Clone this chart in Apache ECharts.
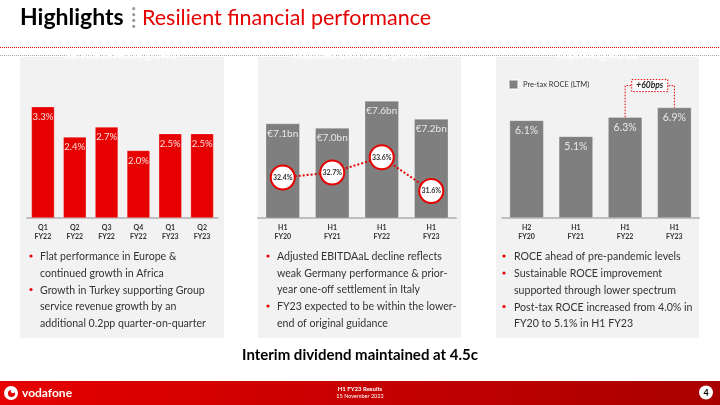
<!DOCTYPE html>
<html><head><meta charset="utf-8">
<script src="https://cdn.jsdelivr.net/npm/echarts@6/dist/echarts.min.js"></script>
<style>html,body{margin:0;padding:0;background:#fff}#c{width:720px;height:405px}</style>
</head><body><div id="c"></div>
<script>
const srvCats = ['Q1\nFY22','Q2\nFY22','Q3\nFY22','Q4\nFY22','Q1\nFY23','Q2\nFY23'];
const srvGrowth = [3.3, 2.4, 2.7, 2.0, 2.5, 2.5];
const ebitdaCats = ['H1\nFY20','H1\nFY21','H1\nFY22','H1\nFY23'];
const ebitdaBn = [7.1, 7.0, 7.6, 7.2];
const ebitdaMargin = [32.4, 32.7, 33.6, 31.6];
const roceCats = ['H2\nFY20','H1\nFY21','H1\nFY22','H1\nFY23'];
const roceVals = [6.1, 5.1, 6.3, 6.9];
const roceChange = '+60bps';
const panelTitles = ['Service revenue growth', 'Adjusted EBITDAaL growth', 'Improving ROCE'];
const bullets1 = [['Flat performance in Europe &','continued growth in Africa'],['Growth in Turkey supporting Group','service revenue growth by an','additional 0.2pp quarter-on-quarter']];
const bullets2 = [['Adjusted EBITDAaL decline reflects','weak Germany performance & prior-','year one-off settlement in Italy'],['FY23 expected to be within the lower-','end of original guidance']];
const bullets3 = [['ROCE ahead of pre-pandemic levels'],['Sustainable ROCE improvement','supported through lower spectrum'],['Post-tax ROCE increased from 4.0% in','FY20 to 5.1% in H1 FY23']];
const mainTitle = 'Highlights';
const subTitle = 'Resilient financial performance';
const dividendText = 'Interim dividend maintained at 4.5c';

const RED = '#e60000', GREY = '#7f7f7f', FONT = 'Lato';
const chart = echarts.init(document.getElementById('c'), null, {renderer:'canvas'});

function xAx(grid, data){
  return {type:'category', gridIndex:grid, data:data,
    axisLine:{lineStyle:{color:'#bfbfbf', width:2}}, axisTick:{show:false},
    axisLabel:{fontSize:7, fontWeight:'bold', color:'#333', lineHeight:9, margin:5, fontFamily:FONT, interval:0}};
}
function yAx(grid, min, max){
  return {type:'value', gridIndex:grid, min:min, max:max, show:false, splitLine:{show:false}};
}

const statics = [];
[[20,204],[258,203],[496,203]].forEach((p,i)=>{
  statics.push({type:'rect', shape:{x:p[0], y:57, width:p[1], height:281}, style:{fill:'#f2f2f2'}, z:-10});
  statics.push({type:'text', x:p[0]+p[1]/2, y:55, style:{text:panelTitles[i], fill:'#fff', font:'bold 11px '+FONT, textAlign:'center', textVerticalAlign:'middle'}, z:5});
});
statics.push({type:'line', shape:{x1:0,y1:47.5,x2:720,y2:47.5}, style:{stroke:RED, lineWidth:1, lineDash:[1,1]}});
statics.push({type:'line', shape:{x1:0,y1:55.5,x2:720,y2:55.5}, style:{stroke:'#aaa', lineWidth:1, lineDash:[1,1]}, z:1});
statics.push({type:'text', x:20, y:18, style:{text:mainTitle, fill:'#000', font:'bold 23px '+FONT, textVerticalAlign:'middle'}});
statics.push({type:'text', x:131, y:18, style:{text:'⁞', fill:'#999', font:'bold 20px '+FONT, textVerticalAlign:'middle'}});
statics.push({type:'text', x:142, y:18, style:{text:subTitle, fill:RED, font:'21.5px '+FONT, textVerticalAlign:'middle'}});
function addBullets(list, bx, tx){
  let y = 257;
  list.forEach(par=>{
    statics.push({type:'circle', shape:{cx:bx, cy:y-1, r:1.6}, style:{fill:RED}});
    par.forEach(line=>{
      statics.push({type:'text', x:tx, y:y, style:{text:line, fill:'#333', font:'10.6px '+FONT, textVerticalAlign:'middle'}});
      y += 16.5;
    });
    y += 0.5;
  });
}
addBullets(bullets1, 31, 40);
addBullets(bullets2, 268, 277);
addBullets(bullets3, 504, 514);
statics.push({type:'text', x:360, y:355, style:{text:dividendText, fill:'#000', font:'bold 15px '+FONT, textAlign:'center', textVerticalAlign:'middle'}});
statics.push({type:'rect', shape:{x:0,y:381,width:720,height:24}, style:{fill:new echarts.graphic.LinearGradient(0,0,1,0,[{offset:0,color:'#e60000'},{offset:1,color:'#a80000'}])}});
statics.push({type:'circle', shape:{cx:11, cy:393, r:7}, style:{fill:'#fff'}});
statics.push({type:'circle', shape:{cx:11.5, cy:393.5, r:3.6}, style:{fill:RED}});
statics.push({type:'circle', shape:{cx:13, cy:391, r:2.2}, style:{fill:'#fff'}});
statics.push({type:'text', x:22, y:393, style:{text:'vodafone', fill:'#fff', font:'bold 12px '+FONT, textVerticalAlign:'middle'}});
statics.push({type:'text', x:360, y:389, style:{text:'H1 FY23 Results', fill:'#fff', font:'bold 6px '+FONT, textAlign:'center', textVerticalAlign:'middle'}});
statics.push({type:'text', x:360, y:396, style:{text:'15 November 2022', fill:'#fff', font:'5.5px '+FONT, textAlign:'center', textVerticalAlign:'middle'}});
statics.push({type:'circle', shape:{cx:706, cy:392.5, r:7}, style:{fill:'#fff'}});
statics.push({type:'text', x:706, y:393, style:{text:'4', fill:'#000', font:'bold 9px '+FONT, textAlign:'center', textVerticalAlign:'middle'}});

const option = {
  animation:false,
  grid:[
    {left:27, width:191, top:83, height:135},
    {left:258, width:198, top:83, height:135},
    {left:502, width:197, top:90, height:128}
  ],
  legend:{data:['Pre-tax ROCE (LTM)'], left:503, top:74, icon:'rect', itemWidth:9, itemHeight:9,
    textStyle:{fontSize:7.5, color:'#333', fontFamily:FONT}},
  xAxis:[xAx(0,srvCats), xAx(1,ebitdaCats), xAx(2,roceCats)],
  yAxis:[yAx(0,0,4), yAx(1,5,8), yAx(1,30,38), yAx(2,0,8)],
  series:[
    {type:'bar', name:'Service revenue growth', xAxisIndex:0, yAxisIndex:0, data:srvGrowth, barWidth:23,
      itemStyle:{color:RED, borderColor:'rgba(255,255,255,0.6)', borderWidth:0.5},
      label:{show:true, position:'insideTop', distance:5, formatter:p=>p.value.toFixed(1)+'%', color:'#fbe0e0', fontSize:9.5, fontFamily:FONT}},
    {type:'bar', name:'Adjusted EBITDAaL', xAxisIndex:1, yAxisIndex:1, data:ebitdaBn, barWidth:34,
      itemStyle:{color:GREY, borderColor:'rgba(255,255,255,0.5)', borderWidth:0.5},
      label:{show:true, position:'insideTop', distance:5, formatter:p=>'€'+p.value.toFixed(1)+'bn', color:'#e8e8e8', fontSize:10, fontFamily:FONT}},
    {type:'line', name:'Margin', xAxisIndex:1, yAxisIndex:2, data:ebitdaMargin, symbol:'circle', symbolSize:24, z:5,
      itemStyle:{color:'#fff', borderColor:RED, borderWidth:2},
      lineStyle:{color:RED, type:'dotted', width:2},
      label:{show:true, position:'inside', formatter:p=>p.value.toFixed(1)+'%', color:'#333', fontSize:7, fontWeight:'bold', fontFamily:FONT}},
    {type:'bar', name:'Pre-tax ROCE (LTM)', xAxisIndex:2, yAxisIndex:3, data:roceVals, barWidth:34,
      itemStyle:{color:GREY, borderColor:'rgba(255,255,255,0.5)', borderWidth:0.5},
      label:{show:true, position:'insideTop', distance:5, formatter:p=>p.value.toFixed(1)+'%', color:'#e8e8e8', fontSize:10.5, fontFamily:FONT}}
  ],
  graphic:statics
};
chart.setOption(option);

const pA = chart.convertToPixel({seriesIndex:3}, [2, roceVals[2]]);
const pB = chart.convertToPixel({seriesIndex:3}, [3, roceVals[3]]);
const yTop = Math.min(pA[1], pB[1]) - 22;
const midX = (pA[0]+pB[0])/2;
const ann = [
  {type:'polyline', shape:{points:[[pA[0],pA[1]],[pA[0],yTop],[pB[0],yTop],[pB[0],pB[1]]]}, style:{stroke:RED, lineWidth:1, lineDash:[1.5,1.5], fill:null}, z:6},
  {type:'rect', shape:{x:midX-18, y:yTop-6, width:36, height:12}, style:{fill:'#fff', stroke:RED, lineWidth:1, lineDash:[1.5,1.5]}, z:7},
  {type:'text', x:midX, y:yTop, style:{text:roceChange, fill:'#222', font:'italic bold 8.5px '+FONT, textAlign:'center', textVerticalAlign:'middle'}, z:8}
];
chart.setOption({graphic:statics.concat(ann)}, {replaceMerge:['graphic']});
</script></body></html>
